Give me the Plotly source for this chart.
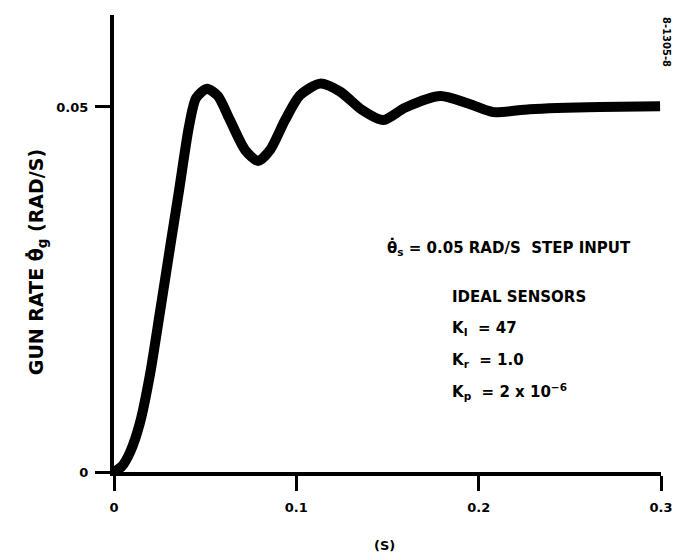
import plotly.graph_objects as go

# Gun rate response (time in s, rate in rad/s)
time_s = [0, 0.0044, 0.0088, 0.0143, 0.0197, 0.0252, 0.0307, 0.0357, 0.0411, 0.045,
          0.051, 0.057, 0.0636, 0.0719, 0.079, 0.0856, 0.0938, 0.102, 0.113, 0.124,
          0.136, 0.1476, 0.1596, 0.179, 0.195, 0.208, 0.228, 0.2666, 0.2995]
gun_rate = [0, 0.0008, 0.0027, 0.0068, 0.0133, 0.0219, 0.0307, 0.0386, 0.0473, 0.0512,
            0.0525, 0.0515, 0.0482, 0.0441, 0.0426, 0.0441, 0.0482, 0.0516, 0.0532, 0.0521,
            0.0496, 0.0482, 0.0499, 0.0515, 0.0504, 0.0493, 0.0497, 0.05, 0.0501]

x_ticks = [0, 0.1, 0.2, 0.3]
x_tick_labels = ["0", "0.1", "0.2", "0.3"]
y_ticks = [0, 0.05]
y_tick_labels = ["0", "0.05"]

FONT = "DejaVu Sans"

fig = go.Figure()
fig.add_trace(go.Scatter(x=time_s, y=gun_rate, mode="lines",
                         line=dict(color="black", width=10, shape="spline", smoothing=0.7),
                         hoverinfo="skip", showlegend=False, cliponaxis=False))

axis_common = dict(showline=True, linecolor="black", linewidth=4, ticks="outside",
                   ticklen=15, tickwidth=3, tickcolor="black", showgrid=False,
                   zeroline=False, ticklabelstandoff=5, automargin=False,
                   ticklabeloverflow="allow",
                   tickfont=dict(family=FONT, size=13, color="black"))

fig.update_xaxes(range=[0, 0.3], tickvals=x_ticks,
                 ticktext=["<b>%s</b>" % t for t in x_tick_labels], **axis_common)
fig.update_yaxes(range=[0, 0.0626], tickvals=y_ticks,
                 ticktext=["<b>%s</b>" % t for t in y_tick_labels], **axis_common)
fig.update_yaxes(ticklabelstandoff=4)

TS = 15
annots = [
    dict(x=-0.14, y=0.46, xref="paper", yref="paper", text="<b>GUN RATE θ̇<sub>g</sub> (RAD/S)</b>",
         textangle=-90, xanchor="center", yanchor="middle",
         font=dict(family=FONT, size=19, color="black"), showarrow=False),
    dict(x=0.494, y=-0.16, xref="paper", yref="paper", text="<b>(S)</b>",
         xanchor="center", yanchor="middle",
         font=dict(family=FONT, size=13, color="black"), showarrow=False),
    dict(x=0.1487, y=0.0308, text="<b>θ̇<sub>s</sub> = 0.05 RAD/S  STEP INPUT</b>", xanchor="left",
         yanchor="middle", font=dict(family=FONT, size=TS, color="black"), showarrow=False),
    dict(x=0.1843, y=0.0240, text="<b>IDEAL SENSORS</b>", xanchor="left", yanchor="middle",
         font=dict(family=FONT, size=TS, color="black"), showarrow=False),
    dict(x=0.1843, y=0.0197, text="<b>K<sub>I</sub>  = 47</b>", xanchor="left", yanchor="middle",
         font=dict(family=FONT, size=TS, color="black"), showarrow=False),
    dict(x=0.1843, y=0.0153, text="<b>K<sub>r</sub>  = 1.0</b>", xanchor="left", yanchor="middle",
         font=dict(family=FONT, size=TS, color="black"), showarrow=False),
    dict(x=0.1843, y=0.0110, text="<b>K<sub>p</sub>  = 2 x 10<sup>−6</sup></b>", xanchor="left",
         yanchor="middle", font=dict(family=FONT, size=TS, color="black"), showarrow=False),
    dict(x=1.011, y=1.0, xref="paper", yref="paper", text="<b>8-1305-8</b>",
         textangle=90, xanchor="center", yanchor="top",
         font=dict(family=FONT, size=10, color="black"), showarrow=False),
]

fig.update_layout(width=675, height=556, margin=dict(l=114, r=14, t=15, b=84),
                  plot_bgcolor="white", paper_bgcolor="white", annotations=annots)

fig.write_html("out.html")
